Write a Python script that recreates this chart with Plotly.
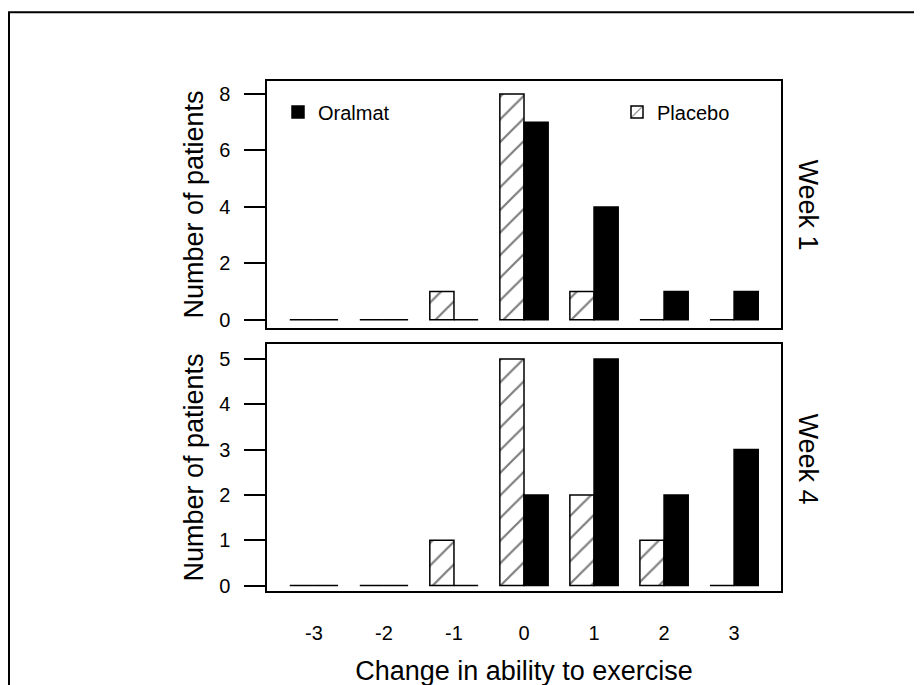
import plotly.graph_objects as go

categories = [-3, -2, -1, 0, 1, 2, 3]
tick_labels = ["-3", "-2", "-1", "0", "1", "2", "3"]
week1_placebo = [0, 0, 1, 8, 1, 0, 0]
week1_oralmat = [0, 0, 0, 7, 4, 1, 1]
week4_placebo = [0, 0, 1, 5, 2, 1, 0]
week4_oralmat = [0, 0, 0, 2, 5, 2, 3]
week1_ticks = [0, 2, 4, 6, 8]
week4_ticks = [0, 1, 2, 3, 4, 5]

FONT = "Liberation Sans, Arial, sans-serif"
OFF = 8  # page body margin
W, H = 922, 685
L, R, T, B = 267 - OFF, 922 - (781 - OFF), 81 - OFF, 685 - (593 - OFF)
PW, PH = W - L - R, H - T - B

def px(x):
    return (x - OFF - L) / PW

def py(y):
    return (H - B - (y - OFF)) / PH

placebo_style = dict(color="white",
                     line=dict(color="black", width=1.5),
                     pattern=dict(shape="/", fgcolor="black", bgcolor="white",
                                  size=16, solidity=0.14))
oral_style = dict(color="black", line=dict(color="black", width=1.5))

fig = go.Figure()
fig.add_trace(go.Bar(x=categories, y=week1_placebo, name="Placebo", marker=placebo_style,
                     xaxis="x", yaxis="y", legend="legend2", showlegend=True))
fig.add_trace(go.Bar(x=categories, y=week1_oralmat, name="Oralmat", marker=oral_style,
                     xaxis="x", yaxis="y", legend="legend", showlegend=True))
fig.add_trace(go.Bar(x=categories, y=week4_placebo, name="Placebo", marker=placebo_style,
                     xaxis="x2", yaxis="y2", showlegend=False))
fig.add_trace(go.Bar(x=categories, y=week4_oralmat, name="Oralmat", marker=oral_style,
                     xaxis="x2", yaxis="y2", showlegend=False))

axis_common = dict(showline=True, mirror=True, linecolor="black", linewidth=1.5,
                   showgrid=False, zeroline=False)

top_bottom_split = py(329)
bottom_top = py(345)

TICK_SIZE = 20

fig.update_layout(
    width=W, height=H,
    margin=dict(l=L, r=R, t=T, b=B),
    paper_bgcolor="white", plot_bgcolor="white",
    font=dict(family=FONT, color="black", size=TICK_SIZE),
    barmode="group", bargap=0.31, bargroupgap=0,
    xaxis=dict(domain=[0, 1], anchor="y", range=[-3.67, 3.67], showticklabels=False,
               ticks="", tickvals=categories, **axis_common),
    yaxis=dict(domain=[top_bottom_split, 1], anchor="x", range=[-0.29, 8.46],
               tickvals=week1_ticks, ticktext=[str(v) for v in week1_ticks],
               ticks="outside", ticklen=21, tickwidth=1.5,
               tickcolor="black", ticklabelstandoff=10,
               tickfont=dict(family=FONT, size=TICK_SIZE, color="black"),
               title=dict(text="Number of patients", font=dict(size=27), standoff=8),
               **axis_common),
    xaxis2=dict(domain=[0, 1], anchor="y2", range=[-3.67, 3.67], tickvals=categories,
                ticktext=tick_labels, ticks="", ticklabelstandoff=23,
                tickfont=dict(family=FONT, size=TICK_SIZE, color="black"),
                title=dict(text="Change in ability to exercise", font=dict(size=27),
                           standoff=18),
                **axis_common),
    yaxis2=dict(domain=[0, bottom_top], anchor="x2", range=[-0.12, 5.33],
                tickvals=week4_ticks, ticktext=[str(v) for v in week4_ticks],
                ticks="outside", ticklen=21, tickwidth=1.5,
                tickcolor="black", ticklabelstandoff=10,
                tickfont=dict(family=FONT, size=TICK_SIZE, color="black"),
                title=dict(text="Number of patients", font=dict(size=27), standoff=8),
                **axis_common),
    legend=dict(x=px(278), y=py(112), xanchor="left", yanchor="middle",
                bgcolor="rgba(0,0,0,0)", font=dict(size=20)),
    legend2=dict(x=px(617), y=py(112), xanchor="left", yanchor="middle",
                 bgcolor="rgba(0,0,0,0)", font=dict(size=20)),
    shapes=[dict(type="rect", xref="paper", yref="paper",
                 x0=px(9), x1=px(940), y0=py(710), y1=py(12),
                 line=dict(color="black", width=2), fillcolor="rgba(0,0,0,0)",
                 layer="below")],
    annotations=[
        dict(text="Week 1", xref="paper", yref="paper", x=px(808), y=py(205),
             textangle=90, showarrow=False, font=dict(size=27), xanchor="center",
             yanchor="middle"),
        dict(text="Week 4", xref="paper", yref="paper", x=px(808), y=py(460),
             textangle=90, showarrow=False, font=dict(size=27), xanchor="center",
             yanchor="middle"),
    ],
)

fig.write_html("out.html")
